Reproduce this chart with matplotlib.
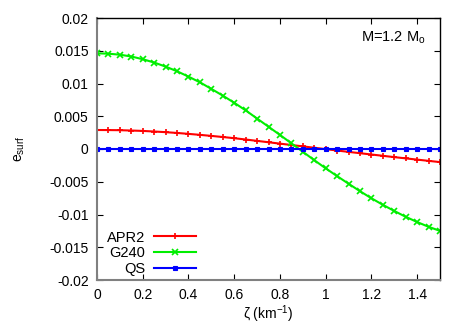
import matplotlib
matplotlib.use("Agg")
import matplotlib.pyplot as plt

plt.rcParams['font.family'] = ['Liberation Sans', 'DejaVu Sans']
plt.rcParams['mathtext.fontset'] = 'custom'
plt.rcParams['mathtext.rm'] = 'Liberation Sans'
plt.rcParams['mathtext.it'] = 'Liberation Sans'

zeta = [0.00, 0.05, 0.10, 0.15, 0.20, 0.25, 0.30, 0.35, 0.40, 0.45,
        0.50, 0.55, 0.60, 0.65, 0.70, 0.75, 0.80, 0.85, 0.90, 0.95,
        1.00, 1.05, 1.10, 1.15, 1.20, 1.25, 1.30, 1.35, 1.40, 1.45, 1.50]

apr2 = [0.00290, 0.00289, 0.00287, 0.00282, 0.00276, 0.00267, 0.00257, 0.00245,
        0.00231, 0.00216, 0.00200, 0.00183, 0.00165, 0.00145, 0.00124, 0.00103,
        0.00082, 0.00061, 0.00040, 0.00019, -0.00002, -0.00023, -0.00044,
        -0.00064, -0.00084, -0.00104, -0.00124, -0.00143, -0.00162, -0.00181,
        -0.00200]

g240 = [0.01461, 0.01455, 0.01440, 0.01412, 0.01371, 0.01320, 0.01258, 0.01187,
        0.01105, 0.01018, 0.00918, 0.00815, 0.00706, 0.00590, 0.00465, 0.00340,
        0.00215, 0.00087, -0.00042, -0.00170, -0.00295, -0.00414, -0.00530,
        -0.00644, -0.00752, -0.00852, -0.00946, -0.01035, -0.01115, -0.01188,
        -0.01250]

qs = [0.0] * 31

yticks = [0.02, 0.015, 0.01, 0.005, 0, -0.005, -0.01, -0.015, -0.02]
ytick_labels = ['0.02', '0.015', '0.01', '0.005', '0', '-0.005', '-0.01', '-0.015', '-0.02']
xticks = [0, 0.2, 0.4, 0.6, 0.8, 1, 1.2, 1.4]
xtick_labels = ['0', '0.2', '0.4', '0.6', '0.8', '1', '1.2', '1.4']

fig = plt.figure(figsize=(4.67, 3.27), dpi=100)
ax = fig.add_axes([97/467, 1 - 280/327, (440-97)/467, (280-18)/327])

ax.plot(zeta, apr2, color='#ff0000', lw=1.5, marker='+', ms=5, mew=1.2, label='APR2')
ax.plot(zeta, g240, color='#00ee00', lw=1.5, marker='x', ms=4.5, mew=1.2, label='G240')
ax.plot(zeta, qs, color='#0000ff', lw=1.5, marker='s', ms=3.5, mew=0.8, label='QS')

ax.set_xlim(0, 1.5)
ax.set_ylim(-0.02, 0.02)
ax.set_yticks(yticks)
ax.set_yticklabels(ytick_labels)
ax.set_xticks(xticks)
ax.set_xticklabels(xtick_labels)
ax.tick_params(direction='in', top=True, right=True, length=4, width=0.8,
               labelsize=10, pad=6)
for s in ['left', 'bottom']:
    ax.spines[s].set_color('#808080')
    ax.spines[s].set_linewidth(1.5)
for s in ['top', 'right']:
    ax.spines[s].set_color('black')
    ax.spines[s].set_linewidth(1.0)

ax.set_xlabel(r'ζ (km$^{-1}$)', fontsize=10, labelpad=1)
ax.set_ylabel(r'e$_{\rm surf}$', fontsize=10, labelpad=16)

ax.text(0.957, 0.955, r'M=1.2 M$_{\rm o}$', transform=ax.transAxes,
        ha='right', va='top', fontsize=10.5)

leg = ax.legend(loc='lower left', bbox_to_anchor=(-0.01, -0.035), frameon=False,
                markerfirst=False, numpoints=1, handlelength=2.9,
                handletextpad=0.6, labelspacing=0.12, fontsize=10.5)
leg._legend_box.align = 'right'

fig.savefig('out.png', dpi=100)
